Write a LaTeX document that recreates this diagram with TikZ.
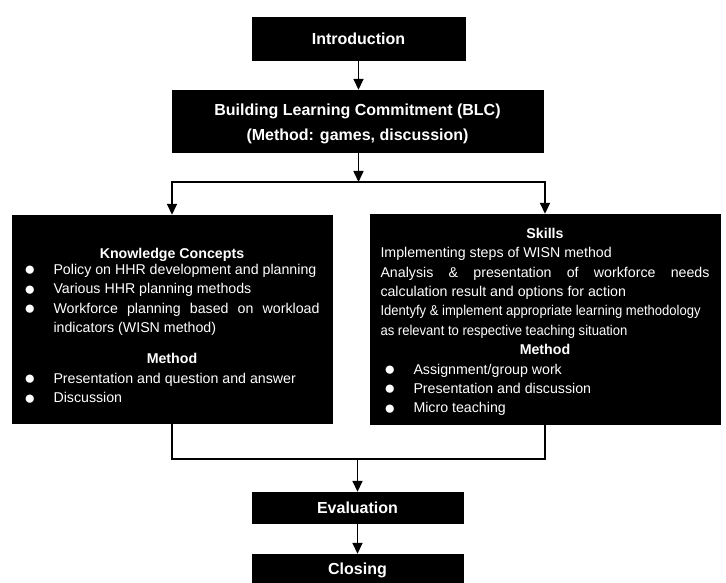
\documentclass[tikz,border=0pt]{standalone}
\usepackage{fontspec}
\setmainfont{Liberation Sans}
\newfontfamily\narrowfont[FakeStretch=0.92]{Liberation Sans}
\usetikzlibrary{arrows.meta}
\setlength{\parindent}{0pt}
\newcommand{\dotmark}{\raisebox{-1.2pt}{\fontsize{19}{19}\selectfont ●}}
\newcommand{\kitem}[1]{\par\hangindent=29pt\hangafter=1\noindent\makebox[29pt][l]{\hspace{-0.5pt}\dotmark}#1}
\newcommand{\sitem}[1]{\par\hangindent=33pt\hangafter=1\noindent\makebox[33pt][l]{\hspace{3.5pt}\dotmark}#1}

\begin{document}
\begin{tikzpicture}
	[x=1pt, y=-1pt,
	box/.style ={rectangle, draw=black, fill=black, text=white, align=center, font=\fontsize{16}{23}\selectfont\bfseries},
	panel/.style ={rectangle, draw=black, fill=black, text=white, align=justify, inner xsep=10.5pt, font=\fontsize{14.2}{19.4}\selectfont},
	line/.style ={draw, line width=1.6pt, -{Triangle[length=11pt,width=10pt]}},
	link/.style ={draw, line width=1.6pt}]
	\useasboundingbox (0,0) rectangle (726,583);
	\draw (358.5, 38.5) node[box, minimum width=213pt, minimum height=43pt] (intro) {Introduction};
	\draw (357.5, 121) node[box, minimum width=371pt, minimum height=62pt] (blc) {\rule{0pt}{18pt}Building Learning Commitment (BLC)\\[2pt](Method: games, discussion)};
	\draw (172, 319) node[panel, text width=295pt, inner xsep=12.5pt, minimum width=320pt, minimum height=208pt] (know) {%
		{\centering\bfseries\rule{0pt}{24pt}Knowledge Concepts\par}
		\vspace{-3pt}
		\kitem{Policy on HHR development and planning}
		\kitem{Various HHR planning methods}
		\kitem{Workforce planning based on workload\linebreak indicators (WISN method)}
		\par\vspace{12pt}
		{\centering\bfseries Method\par}
		\kitem{Presentation and question and answer}
		\kitem{Discussion}};
	\draw (545, 319) node[panel, text width=329pt, minimum width=350pt, minimum height=210pt] (skills) {%
		{\centering\bfseries\rule{0pt}{16pt}Skills\par}
		Implementing steps of WISN method\par
		Analysis \& presentation of workforce needs\linebreak calculation result and options for action\par
		{\narrowfont Identyfy \& implement appropriate learning methodology\newline as relevant to respective teaching situation\par}
		{\centering\bfseries Method\par}
		\sitem{Assignment/group work}
		\sitem{Presentation and discussion}
		\sitem{Micro teaching}};
	\draw (357.5, 507.5) node[box, minimum width=211pt, minimum height=31pt] (eval) {Evaluation};
	\draw (357.5, 570) node[box, minimum width=211pt, minimum height=32pt] (closing) {Closing};
	\coordinate (split) at (358.5, 182);
	\coordinate (merge) at (357.5, 459);
	\draw[line] (intro) -- (intro |- blc.north);
	\draw[line] (intro |- blc.south) -- (split);
	\draw[line] (split) -| (know.north);
	\draw[line] (split) -| (skills.north);
	\draw[link] (know.south) |- (merge) -| (skills.south);
	\draw[line] (merge) -- (eval);
	\draw[line] (eval) -- (closing);
\end{tikzpicture}
\end{document}
